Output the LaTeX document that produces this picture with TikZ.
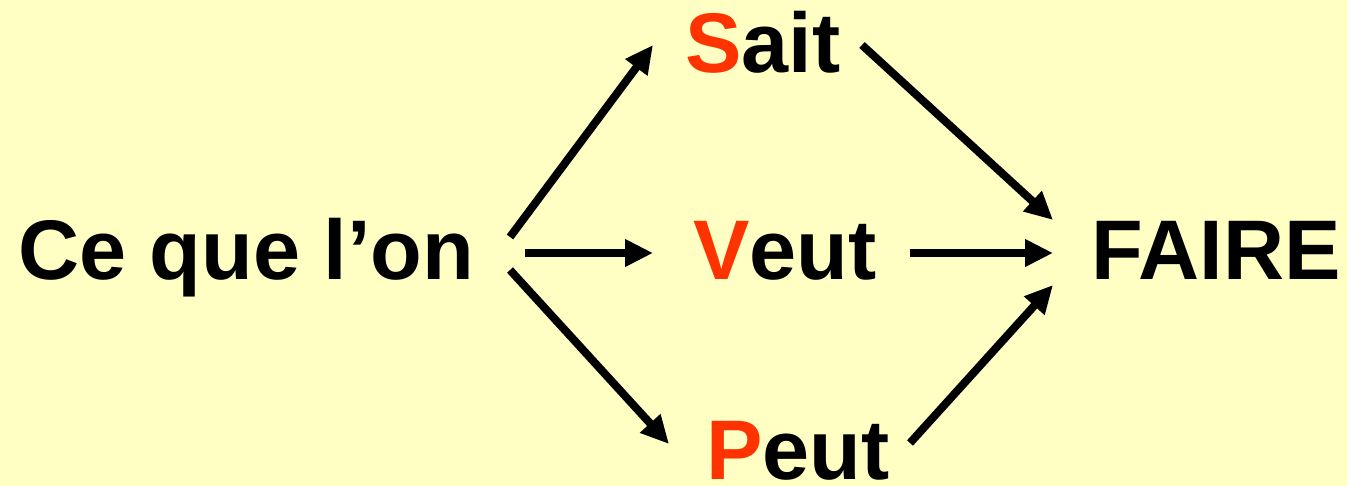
\documentclass[tikz,border=0pt]{standalone}
\usepackage{fontspec}
\setmainfont{Liberation Sans}
\usetikzlibrary{arrows.meta,calc}
\definecolor{bgyellow}{HTML}{FFFFC4}
\definecolor{accent}{HTML}{FF3300}
\tikzset{
  word/.style={anchor=base west, inner sep=0pt, font=\fontsize{42.3}{50}\selectfont\bfseries},
  flow/.style={line width=4pt, -{Triangle[length=14pt,width=13pt]}},
}
\newcommand{\hl}[1]{\textcolor{accent}{#1}}
\begin{document}
\begin{tikzpicture}[x=0.5pt,y=-0.5pt]
\fill[bgyellow] (0,0) rectangle (1347,486);
\useasboundingbox (0,0) rectangle (1347,486);
\node[word] (ce) at (18,279) {Ce que l’on};
\node[word] (sait) at (685,73) {\hl{S}ait};
\node[word] (veut) at (693,279) {\hl{V}eut};
\node[word] (peut) at (706,479) {\hl{P}eut};
\node[word] (faire) at (1091,279) {FAIRE};
\draw[flow] ($(ce.base west)+(492,-42)$) -- ($(sait.base west)+(-32,-28)$);
\draw[flow] ($(ce.base west)+(507,-26)$) -- ($(veut.base west)+(-40,-26)$);
\draw[flow] ($(ce.base west)+(492,-9)$) -- ($(peut.base west)+(-37,-35)$);
\draw[flow] ($(sait.base west)+(177,-28)$) -- ($(faire.base west)+(-38,-59)$);
\draw[flow] ($(veut.base west)+(217,-26)$) -- ($(faire.base west)+(-38,-26)$);
\draw[flow] ($(peut.base west)+(204,-36)$) -- ($(faire.base west)+(-38,6)$);
\end{tikzpicture}
\end{document}
